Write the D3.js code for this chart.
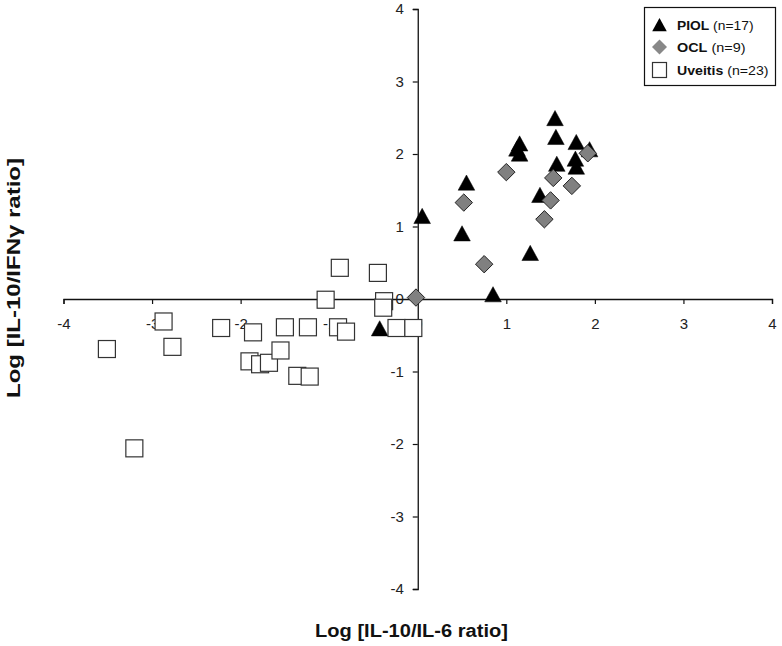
<!DOCTYPE html>
<html><head><meta charset="utf-8">
<script src="https://cdn.jsdelivr.net/npm/d3@7"></script>
<style>
html,body{margin:0;padding:0;background:#fff;}
svg text{font-family:"Liberation Sans",Arial,sans-serif;}
</style>
</head><body>
<svg id="chart" width="782" height="646"></svg>
<script>
// Data (log ratios): x = Log[IL-10/IL-6], y = Log[IL-10/IFNγ]
const piolX = [0.05, 0.55, 0.50, 1.15, 1.15, 1.12, 1.55, 1.56, 1.57, 1.38, 1.27, 0.85, 1.79, 1.78, 1.79, 1.94, -0.43];
const piolY = [1.14, 1.60, 0.90, 2.14, 2.00, 2.07, 2.49, 2.23, 1.86, 1.43, 0.63, 0.06, 2.16, 1.93, 1.82, 2.06, -0.41];
const oclX = [-0.02, 0.52, 1.00, 0.75, 1.43, 1.50, 1.53, 1.74, 1.92];
const oclY = [0.02, 1.33, 1.75, 0.48, 1.10, 1.36, 1.67, 1.56, 2.01];
const uvX = [-1.04, -0.38, -0.39, -2.87, -2.22, -1.86, -1.50, -1.24, -0.90, -0.81, -0.24, -0.05, -3.51, -2.77, -1.90, -1.78, -1.68, -1.55, -1.36, -1.22, -3.20, -0.88, -0.45];
const uvY = [-0.01, -0.03, -0.12, -0.31, -0.40, -0.46, -0.39, -0.39, -0.39, -0.45, -0.40, -0.40, -0.69, -0.66, -0.86, -0.90, -0.88, -0.71, -1.06, -1.07, -2.06, 0.43, 0.36];
const xTicks = [-4, -3, -2, -1, 0, 1, 2, 3, 4];
const yTicks = [-4, -3, -2, -1, 0, 1, 2, 3, 4];
const legendNames = ["PIOL", "OCL", "Uveitis"];
const legendCounts = ["(n=17)", "(n=9)", "(n=23)"];
const xTitle = "Log [IL-10/IL-6 ratio]";
const yTitle = "Log [IL-10/IFNγ ratio]";

const svg = d3.select("#chart");
const x = d3.scaleLinear().domain([-4, 4]).range([63.5, 772]);
const y = d3.scaleLinear().domain([-4, 4]).range([589, 9]);

// Axes crossing at origin
const xAxis = svg.append("g").attr("transform", `translate(0,${y(0)})`)
  .call(d3.axisBottom(x).tickValues(xTicks).tickSize(5).tickPadding(14).tickFormat(d => String(d)));
const yAxis = svg.append("g").attr("transform", `translate(${x(0)},0)`)
  .call(d3.axisLeft(y).tickValues(yTicks).tickSize(5).tickPadding(9).tickFormat(d => String(d)));
[xAxis, yAxis].forEach(g => {
  g.attr("font-size", null).attr("font-family", null);
  g.select(".domain").attr("stroke", "#111").attr("stroke-width", 1.3);
  g.selectAll(".tick line").attr("stroke", "#111").attr("stroke-width", 1.2);
  g.selectAll(".tick text").attr("fill", "#222")
    .style("font-size", "15px")
    .style("font-family", '"Liberation Sans",Arial,sans-serif');
});

// Markers
const tri = (cx, cy, s) => `M${cx},${cy - s * 0.5}L${cx + s * 0.52},${cy + s * 0.45}L${cx - s * 0.52},${cy + s * 0.45}Z`;
const dia = (cx, cy, r) => `M${cx},${cy - r}L${cx + r},${cy}L${cx},${cy + r}L${cx - r},${cy}Z`;

svg.append("g").selectAll("path").data(d3.range(piolX.length)).join("path")
  .attr("d", i => tri(x(piolX[i]), y(piolY[i]), 16))
  .attr("fill", "#000").attr("stroke", "#000").attr("stroke-width", 0.5);

svg.append("g").selectAll("path").data(d3.range(oclX.length)).join("path")
  .attr("d", i => dia(x(oclX[i]), y(oclY[i]), 8.7))
  .attr("fill", "#808080").attr("stroke", "#222").attr("stroke-width", 1);

svg.append("g").selectAll("rect").data(d3.range(uvX.length)).join("rect")
  .attr("x", i => x(uvX[i]) - 8.5).attr("y", i => y(uvY[i]) - 8.5)
  .attr("width", 17).attr("height", 17)
  .attr("fill", "#fff").attr("stroke", "#333").attr("stroke-width", 1.2);

// Legend
const lg = svg.append("g");
lg.append("rect").attr("x", 644.5).attr("y", 7.5).attr("width", 131).attr("height", 78)
  .attr("fill", "#fff").attr("stroke", "#111").attr("stroke-width", 1.2);
const rowY = [25, 47, 70];
const rowW = [76.5, 68.5, 91.5];
lg.append("path").attr("d", tri(659.5, rowY[0], 14)).attr("fill", "#000");
lg.append("path").attr("d", dia(659.5, rowY[1], 7.5)).attr("fill", "#888");
lg.append("rect").attr("x", 652.5).attr("y", rowY[2] - 7.5).attr("width", 14).attr("height", 15)
  .attr("fill", "#fff").attr("stroke", "#333").attr("stroke-width", 1.2);
legendNames.forEach((n, i) => {
  const t = lg.append("text").attr("x", 677).attr("y", rowY[i] + 5).style("font-size", "13.5px").attr("fill", "#111")
    .attr("textLength", rowW[i]).attr("lengthAdjust", "spacingAndGlyphs");
  t.append("tspan").attr("font-weight", "bold").text(n);
  t.append("tspan").text(" " + legendCounts[i]);
});

// Axis titles
svg.append("text").attr("x", 411.5).attr("y", 636.5).attr("text-anchor", "middle")
  .style("font-size", "18px").attr("font-weight", "bold").attr("fill", "#111")
  .attr("textLength", 193).attr("lengthAdjust", "spacingAndGlyphs").text(xTitle);
svg.append("text").attr("transform", "translate(19.5,278) rotate(-90)").attr("text-anchor", "middle")
  .style("font-size", "17.5px").attr("font-weight", "bold").attr("fill", "#111")
  .attr("textLength", 240).attr("lengthAdjust", "spacingAndGlyphs").text(yTitle);
</script>
</body></html>
